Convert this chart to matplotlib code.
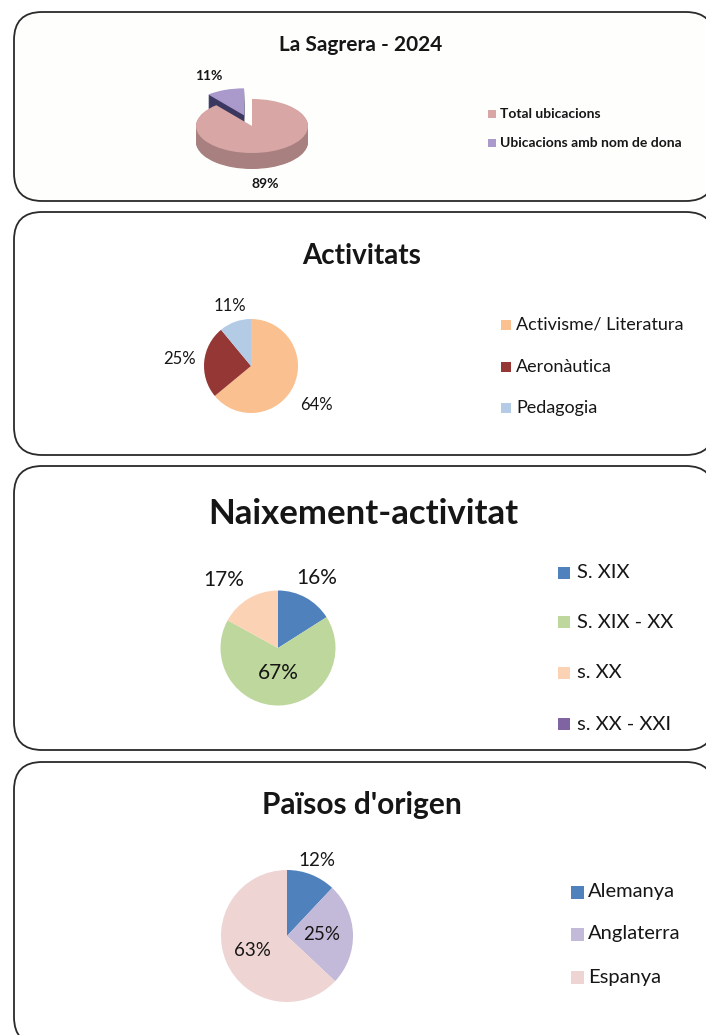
import numpy as np
import matplotlib
matplotlib.use("Agg")
import matplotlib.pyplot as plt
from matplotlib.patches import FancyBboxPatch, Rectangle

plt.rcParams['font.family'] = ['Lato', 'DejaVu Sans']

# ---------------- data ----------------
sagrera_title = "La Sagrera - 2024"
sagrera_labels = ["Total ubicacions", "Ubicacions amb nom de dona"]
sagrera_values = [89, 11]

activ_title = "Activitats"
activ_labels = ["Activisme/ Literatura", "Aeronàutica", "Pedagogia"]
activ_values = [64, 25, 11]

naix_title = "Naixement-activitat"
naix_labels = ["S. XIX", "S. XIX - XX", "s. XX", "s. XX - XXI"]
naix_values = [16, 67, 17, 0]

pais_title = "Països d'origen"
pais_labels = ["Alemanya", "Anglaterra", "Espanya"]
pais_values = [12, 25, 63]

# ---------------- styles ----------------
sagrera_colors = ["#D8A6A5", "#AA9ACB"]
sagrera_side = ["#A98080", "#3B3860"]
activ_colors = ["#FAC090", "#953735", "#B3CBE5"]
naix_colors = ["#4F81BD", "#BDD79C", "#FBD3B4", "#8064A2"]
pais_colors = ["#4F81BD", "#C3B9D8", "#EED4D3"]
TXT = "#161616"

W, H, DPI = 706, 1035, 100
fig = plt.figure(figsize=(W / DPI, H / DPI), dpi=DPI)
fig.patch.set_facecolor("white")
ov = fig.add_axes([0, 0, 1, 1])
ov.set_xlim(0, W)
ov.set_ylim(H, 0)
ov.axis("off")

# rounded panels (x0, y0, x1, y1) in px
panels = [(14, 12, 714, 201), (14, 212, 714, 455), (14, 466, 714, 750), (14, 762, 714, 1045)]
panel_fc = ["#FEFEFD", "white", "white", "white"]
for (x0, y0, x1, y1), fc in zip(panels, panel_fc):
    ov.add_patch(FancyBboxPatch((x0, y0), x1 - x0, y1 - y0,
                                boxstyle="round,pad=0,rounding_size=28",
                                fc=fc, ec="#2a2a2a", lw=1.3))


def pie_axes(cx, cy, rx, ry, a=1.0, b=1.0):
    ax = fig.add_axes([(cx - a * rx) / W, 1 - (cy + b * ry) / H, 2 * a * rx / W, 2 * b * ry / H])
    ax.patch.set_visible(False)
    return ax


def finish(ax, a=1.0, b=1.0):
    ax.set_aspect("auto")
    ax.set_xlim(-a, a)
    ax.set_ylim(-b, b)
    ax.axis("off")


def pct_labels(ax, wedges, values, dists, nudges, rx, ry, size, weight="normal"):
    for w, v, d, (nx, ny) in zip(wedges, values, dists, nudges):
        if v == 0:
            continue
        th = np.deg2rad((w.theta1 + w.theta2) / 2)
        cx, cy = w.center
        x = cx + d * np.cos(th) + nx / rx
        y = cy + d * np.sin(th) - ny / ry
        ax.text(x, y, f"{v}%", ha="center", va="center", fontsize=size,
                fontweight=weight, color=TXT)


def legend(x_sq, y_rows, sq, x_txt, labels, colors, size, weight="normal"):
    for y, lab, c in zip(y_rows, labels, colors):
        ov.add_patch(Rectangle((x_sq, y - sq / 2), sq, sq, fc=c, ec="none"))
        ov.text(x_txt, y, lab, ha="left", va="center", fontsize=size,
                fontweight=weight, color=TXT)


# ---------------- panel 1 : 3D pie ----------------
ov.text(361, 51, sagrera_title, ha="center", va="baseline", fontsize=15,
        fontweight="bold", color=TXT)
cx, cy, rx, ry = 252, 126, 56, 27
depth = 16 / ry
ax1 = pie_axes(cx, cy, rx, ry, a=2.2, b=2.6)
explode = [0, 0.42]
n = 24
for k in range(n):
    d = depth * (1 - k / n)
    ax1.pie(sagrera_values, colors=sagrera_side, startangle=90, counterclock=False,
            explode=explode, center=(0, -d), wedgeprops=dict(lw=0))
top, _ = ax1.pie(sagrera_values, colors=sagrera_colors, startangle=90, counterclock=False,
                 explode=explode, center=(0, 0), wedgeprops=dict(lw=0))
finish(ax1, 2.2, 2.6)
pct_labels(ax1, top, sagrera_values, [2.3, 1.55], [(-30, 0), (-6, 0)], rx, ry, 10, "bold")
legend(488, [114, 143], 8, 500, sagrera_labels, sagrera_colors, 10, "bold")

# ---------------- panel 2 ----------------
ov.text(362, 264, activ_title, ha="center", va="baseline", fontsize=20,
        fontweight="bold", color=TXT)
cx, cy, r = 251, 366, 47
ax2 = pie_axes(cx, cy, r, r)
w2, _ = ax2.pie(activ_values, colors=activ_colors, startangle=90, counterclock=False,
                wedgeprops=dict(lw=0))
finish(ax2)
pct_labels(ax2, w2, activ_values, [1.63, 1.53, 1.35], [(-4, 6), (0, 0), (0, 0)], r, r, 12)
legend(501, [325, 367, 408], 10, 516, activ_labels, activ_colors, 13)

# ---------------- panel 3 ----------------
ov.text(363, 524, naix_title, ha="center", va="baseline", fontsize=25,
        fontweight="bold", color=TXT)
cx, cy, r = 278, 648, 57.5
ax3 = pie_axes(cx, cy, r, r)
w3, _ = ax3.pie(naix_values, colors=naix_colors, startangle=90, counterclock=False,
                wedgeprops=dict(lw=0))
finish(ax3)
pct_labels(ax3, w3, naix_values, [1.38, 0.44, 1.52, 1.0], [(0, 0), (0, 0), (-10, 7), (0, 0)], r, r, 15)
legend(558, [573, 622, 673, 724], 12, 577, naix_labels, naix_colors, 14.5)

# ---------------- panel 4 ----------------
ov.text(362, 814, pais_title, ha="center", va="baseline", fontsize=21.5,
        fontweight="bold", color=TXT)
cx, cy, r = 287, 936, 66
ax4 = pie_axes(cx, cy, r, r)
w4, _ = ax4.pie(pais_values, colors=pais_colors, startangle=90, counterclock=False,
                wedgeprops=dict(lw=0))
finish(ax4)
pct_labels(ax4, w4, pais_values, [1.23, 0.52, 0.57], [(0, 0), (0, 0), (0, 0)], r, r, 13.5)
legend(571, [892, 934, 977], 13, 588, pais_labels, pais_colors, 14.5)

fig.savefig("out.png", dpi=DPI, facecolor="white")
